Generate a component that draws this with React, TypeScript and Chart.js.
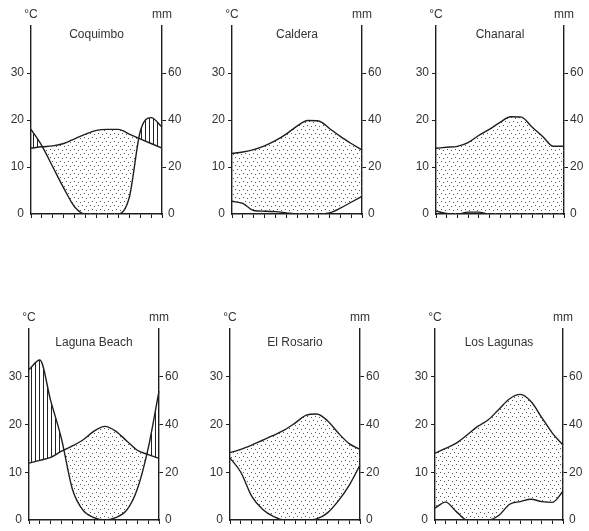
import React, { useEffect, useRef } from "react";
import { Chart, registerables } from "chart.js";

Chart.register(...registerables);

// ---- Data (13 points per series: month marks from axis to axis) ----
const MONTH_MARKS = ["1", "2", "3", "4", "5", "6", "7", "8", "9", "10", "11", "12", "13"];

const COQUIMBO_TEMP = [14, 14.3, 14.5, 15, 16, 17, 17.8, 18, 18, 17, 16, 15, 14];
const COQUIMBO_PREC = [36, 29, 20, 11, 3, 0, 0, 0, 0, 7, 35, 41, 37];

const CALDERA_TEMP = [12.9, 13.2, 13.7, 14.5, 15.6, 17, 18.7, 19.9, 19.8, 18.2, 16.5, 15, 13.6];
const CALDERA_PREC = [5.4, 4.5, 1.5, 1.2, 1, 0.5, 0, 0, 0, 0.5, 2.5, 5, 7.5];

const CHANARAL_TEMP = [14, 14.2, 14.4, 15.2, 16.7, 18, 19.5, 20.7, 20.6, 18.5, 16.5, 14.4, 14.4];
const CHANARAL_PREC = [1.2, 0.2, 0, 0.8, 0.8, 0, 0, 0, 0, 0, 0, 0, 0];

const LAGUNA_TEMP = [11.9, 12.5, 13.1, 14.4, 15.5, 16.8, 18.6, 19.6, 18.6, 16.6, 14.6, 13.7, 12.9];
const LAGUNA_PREC = [63, 67, 50, 34, 13, 4, 1, 0, 1, 4, 13, 30, 54];

const ROSARIO_TEMP = [14.1, 14.8, 15.7, 16.7, 17.7, 18.8, 20.3, 21.9, 22.2, 20.8, 18.2, 16, 14.8];
const ROSARIO_PREC = [26, 20, 10, 4.5, 1.5, 0, 0, 0, 0.5, 3, 8, 14.5, 23];

const LAGUNAS_TEMP = [14, 15, 16.1, 17.8, 19.6, 21, 23.2, 25.4, 26.3, 24.8, 21.5, 18.2, 15.7];
const LAGUNAS_PREC = [5, 7.5, 3.5, 0, 0, 0, 2, 6.6, 7.7, 8.7, 7.7, 7.4, 12];

const STATION_NAMES = ["Coquimbo", "Caldera", "Chanaral", "Laguna Beach", "El Rosario", "Los Lagunas"];
const TEMP_TICKS_MAX = 40;
const PREC_TICKS_MAX = 80;

// ---- Layout (page pixels) ----
const PANELS = [
  { name: STATION_NAMES[0], temp: COQUIMBO_TEMP, prec: COQUIMBO_PREC, L: 31, R: 162, T: 26, B: 214, titleDy: 8.5 },
  { name: STATION_NAMES[1], temp: CALDERA_TEMP, prec: CALDERA_PREC, L: 232, R: 362, T: 26, B: 214, titleDy: 9 },
  { name: STATION_NAMES[2], temp: CHANARAL_TEMP, prec: CHANARAL_PREC, L: 436, R: 564, T: 26, B: 214, titleDy: 8.5 },
  { name: STATION_NAMES[3], temp: LAGUNA_TEMP, prec: LAGUNA_PREC, L: 29, R: 159, T: 329, B: 520, titleDy: 13.5 },
  { name: STATION_NAMES[4], temp: ROSARIO_TEMP, prec: ROSARIO_PREC, L: 230, R: 360, T: 329, B: 520, titleDy: 13.5 },
  { name: STATION_NAMES[5], temp: LAGUNAS_TEMP, prec: LAGUNAS_PREC, L: 435, R: 563, T: 329, B: 520, titleDy: 13.5 },
];

const INK = "#1e1e1e";
const TXT = "#333333";
const FONT = "Liberation Sans";
const PAD_X = 30;
const PAD_TOP = 30;
const X_AXIS_H = 14;

function makeDotPattern(): CanvasPattern | string {
  const c = document.createElement("canvas");
  c.width = 8;
  c.height = 8;
  const g = c.getContext("2d");
  if (!g) return "#999";
  g.fillStyle = "#555";
  const dots = [
    [1, 1],
    [5, 2],
    [3, 5],
    [7, 6],
  ];
  dots.forEach(([x, y]) => g.fillRect(x, y, 1, 1));
  return g.createPattern(c, "repeat") || "#999";
}

function makeHatchPattern(): CanvasPattern | string {
  const c = document.createElement("canvas");
  c.width = 4;
  c.height = 4;
  const g = c.getContext("2d");
  if (!g) return "#666";
  g.fillStyle = "#222";
  g.fillRect(0, 0, 1, 4);
  return g.createPattern(c, "repeat") || "#666";
}

type PanelDef = (typeof PANELS)[number];

function ClimatePanel({ p }: { p: PanelDef }) {
  const ref = useRef<HTMLCanvasElement | null>(null);
  const width = p.R - p.L + 2 * PAD_X;
  const height = p.B - p.T + PAD_TOP + X_AXIS_H;

  useEffect(() => {
    if (!ref.current) return;
    const dots = makeDotPattern();
    const hatch = makeHatchPattern();
    const labelPlugin = {
      id: "panelLabels",
      afterDraw(chart: any) {
        const { ctx, chartArea: a } = chart;
        ctx.save();
        ctx.fillStyle = TXT;
        ctx.font = `12px "${FONT}"`;
        ctx.textAlign = "center";
        ctx.textBaseline = "middle";
        ctx.fillText("°C", a.left, a.top - 11);
        ctx.fillText("mm", a.right, a.top - 11);
        ctx.fillText(p.name, (a.left + a.right) / 2, a.top + p.titleDy);
        ctx.restore();
      },
    };
    const hideEdge = (max: number) => (ctx: any) =>
      ctx.tick && (ctx.tick.value === 0 || ctx.tick.value === max) ? "rgba(0,0,0,0)" : INK;

    const chart = new Chart(ref.current, {
      type: "line",
      data: {
        labels: MONTH_MARKS,
        datasets: [
          {
            label: "Temperature (°C)",
            data: p.temp,
            yAxisID: "y",
            borderColor: INK,
            borderWidth: 1.4,
            pointRadius: 0,
            cubicInterpolationMode: "monotone",
            fill: { target: 1, above: dots, below: hatch } as any,
          },
          {
            label: "Precipitation (mm)",
            data: p.prec,
            yAxisID: "y1",
            borderColor: INK,
            borderWidth: 1.4,
            pointRadius: 0,
            cubicInterpolationMode: "monotone",
            fill: false,
          },
        ],
      },
      options: {
        animation: false,
        responsive: false,
        maintainAspectRatio: false,
        devicePixelRatio: 1,
        layout: { padding: { top: PAD_TOP, left: 0, right: 0, bottom: 0 } },
        plugins: { legend: { display: false }, tooltip: { enabled: false }, title: { display: false } },
        scales: {
          x: {
            type: "category",
            offset: false,
            grid: { display: true, drawOnChartArea: false, drawTicks: true, tickLength: 4, color: INK, lineWidth: 1 },
            border: { display: true, color: INK, width: 1.4 },
            ticks: { display: false },
            afterFit: (s: any) => {
              s.height = X_AXIS_H;
            },
          },
          y: {
            position: "left",
            min: 0,
            max: TEMP_TICKS_MAX,
            ticks: {
              stepSize: 10,
              padding: 3,
              color: TXT,
              font: { family: FONT, size: 12 },
              callback: (v: any) => (v === TEMP_TICKS_MAX ? "" : String(v)),
            },
            grid: { drawOnChartArea: false, drawTicks: true, tickLength: 4, color: hideEdge(TEMP_TICKS_MAX), lineWidth: 1 },
            border: { display: true, color: INK, width: 1.4 },
            afterFit: (s: any) => {
              s.width = PAD_X;
            },
          },
          y1: {
            position: "right",
            min: 0,
            max: PREC_TICKS_MAX,
            ticks: {
              stepSize: 20,
              padding: 2,
              color: TXT,
              font: { family: FONT, size: 12 },
              callback: (v: any) => (v === PREC_TICKS_MAX ? "" : String(v)),
            },
            grid: { drawOnChartArea: false, drawTicks: true, tickLength: 4, color: hideEdge(PREC_TICKS_MAX), lineWidth: 1 },
            border: { display: true, color: INK, width: 1.4 },
            afterFit: (s: any) => {
              s.width = PAD_X;
            },
          },
        },
      } as any,
      plugins: [labelPlugin],
    });
    return () => chart.destroy();
  }, [p]);

  return (
    <div
      style={{
        position: "absolute",
        left: p.L - PAD_X,
        top: p.T - PAD_TOP,
        width,
        height,
      }}
    >
      <canvas ref={ref} width={width} height={height} style={{ width, height, display: "block" }} />
    </div>
  );
}

export default function App() {
  return (
    <div
      style={{
        position: "fixed",
        left: 0,
        top: 0,
        width: 589,
        height: 531,
        background: "#ffffff",
        overflow: "hidden",
      }}
    >
      {PANELS.map((p) => (
        <ClimatePanel key={p.name} p={p} />
      ))}
    </div>
  );
}
